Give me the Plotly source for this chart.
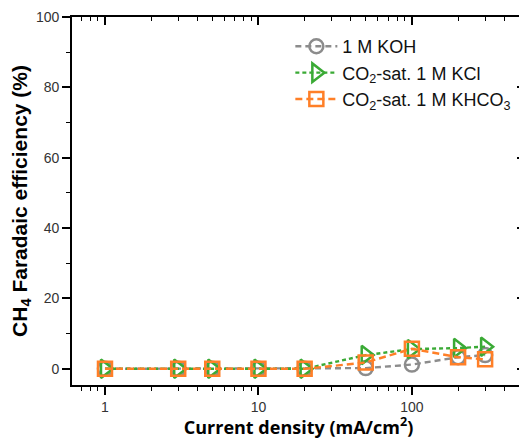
import plotly.graph_objects as go

current = [1, 3, 5, 10, 20, 50, 100, 200, 300]
koh = [0, 0, 0, 0, 0, 0.2, 1.2, 3.3, 3.9]
kcl = [0, 0, 0, 0, 0, 3.9, 5.6, 5.9, 6.3]
khco3 = [0, 0, 0, 0, 0, 1.8, 5.7, 3.3, 2.7]

names = ["1 M KOH", "CO<sub>2</sub>-sat. 1 M KCl", "CO<sub>2</sub>-sat. 1 M KHCO<sub>3</sub>"]
colors = ["#8c8c8c", "#3aaa35", "#ff7f27"]
symbols = ["circle-open", "triangle-right-open", "square-open"]
dashes = ["6px,4px", "4px,3px", "7px,4px"]
sizes = [14, 16, 14]
series = [koh, kcl, khco3]

XR = [-0.215, 2.737]
YR = [-4.6, 100]

fig = go.Figure()
for name, ys, c, s, d, sz in zip(names, series, colors, symbols, dashes, sizes):
    fig.add_trace(go.Scatter(
        x=current, y=ys, name=name, mode="lines+markers",
        line=dict(color=c, width=2.4, dash=d),
        marker=dict(symbol=s, size=sz, color=c, line=dict(width=2.5, color=c)),
    ))
# invisible trace to activate the mirrored top/right axes
fig.add_trace(go.Scatter(x=current, y=kcl, xaxis="x2", yaxis="y2", mode="markers",
                         marker=dict(opacity=0), showlegend=False, hoverinfo="skip"))

fig.update_layout(
    width=519, height=431,
    margin=dict(l=64, r=2, t=9, b=54),
    paper_bgcolor="white", plot_bgcolor="white",
    font=dict(family="Liberation Sans, Arial", color="#333"),
    legend=dict(x=0.482, y=0.97, xanchor="left", yanchor="top",
                font=dict(size=18, color="#111"), bgcolor="rgba(0,0,0,0)",
                tracegroupgap=0, itemwidth=42),
    showlegend=True,
    xaxis=dict(
        type="log", range=XR, automargin=False,
        tickvals=[1, 10, 100], ticktext=["1", "10", "100"],
        ticks="outside", ticklen=8, tickwidth=1.6, tickcolor="black",
        minor=dict(ticks="outside", ticklen=4, tickwidth=1.4, tickcolor="black", dtick="D1"),
        showline=True, linecolor="black", linewidth=1.6, mirror=False,
        showgrid=False, zeroline=False,
        tickfont=dict(size=14, color="#333"),
        title=dict(text="<b>Current density (mA/cm<sup>2</sup>)</b>",
                   font=dict(family="Open Sans, Liberation Sans", size=18, color="black"), standoff=1),
    ),
    xaxis2=dict(
        type="log", range=XR, overlaying="x", side="top", anchor="y2", automargin=False,
        tickvals=[1, 10, 100], showticklabels=False,
        ticks="inside", ticklen=8, tickwidth=1.6, tickcolor="black",
        minor=dict(ticks="inside", ticklen=4, tickwidth=1.4, tickcolor="black", dtick="D1"),
        showline=True, linecolor="black", linewidth=1.6,
        showgrid=False, zeroline=False,
    ),
    yaxis=dict(
        range=YR, tickvals=[0, 20, 40, 60, 80, 100], automargin=False,
        ticks="outside", ticklen=8, tickwidth=1.6, tickcolor="black",
        minor=dict(ticks="outside", ticklen=4, tickwidth=1.4, tickcolor="black", dtick=10, tick0=0),
        showline=True, linecolor="black", linewidth=1.6, mirror=False,
        showgrid=False, zeroline=False,
        tickfont=dict(size=14, color="#333"),
        title=dict(text="<b>CH<sub>4</sub> Faradaic efficiency (%)</b>",
                   font=dict(family="Liberation Sans, Arial", size=21, color="black"), standoff=3),
    ),
    yaxis2=dict(
        range=YR, overlaying="y", side="right", anchor="x2", automargin=False,
        tickvals=[0, 20, 40, 60, 80, 100], showticklabels=False,
        ticks="inside", ticklen=8, tickwidth=1.6, tickcolor="black",
        minor=dict(ticks="inside", ticklen=4, tickwidth=1.4, tickcolor="black", dtick=10, tick0=0),
        showline=True, linecolor="black", linewidth=1.6,
        showgrid=False, zeroline=False,
    ),
)
fig.write_html("out.html")
